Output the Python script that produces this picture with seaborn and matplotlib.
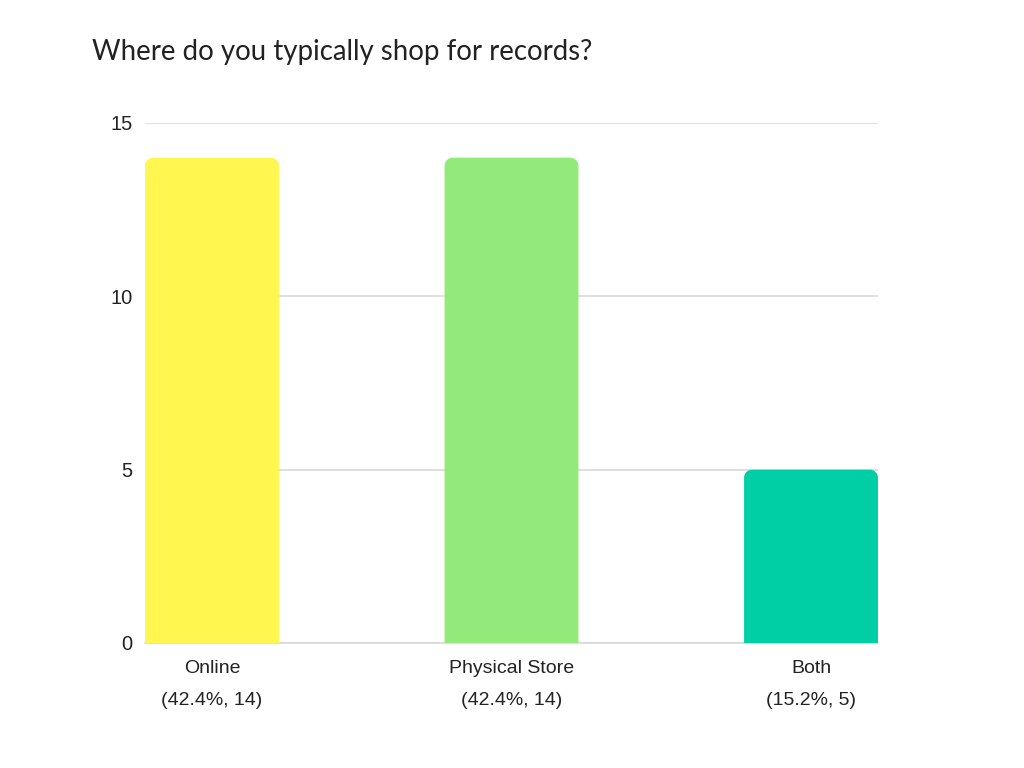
import seaborn as sns
import matplotlib.pyplot as plt
import pandas as pd
from matplotlib.path import Path
from matplotlib.patches import PathPatch

### data
answers = ["Online", "Physical Store", "Both"]
counts = [14, 14, 5]
shares = ["42.4%", "42.4%", "15.2%"]
colors = ["#FFF650", "#93E97A", "#00CFA5"]

df = pd.DataFrame({"answer": answers, "count": counts})

sns.set_style("white")
plt.rcParams["font.family"] = ["Liberation Sans", "DejaVu Sans"]

fig = plt.figure(figsize=(10.24, 7.68), dpi=100)
ax = fig.add_axes([145/1024, 1 - 643/768, 733/1024, 520/768])

sns.barplot(x="answer", y="count", hue="answer", data=df, palette=colors,
            width=0.447, legend=False, ax=ax, saturation=1, zorder=3)

### swap plain rectangles for ones with rounded top corners
rx, ry = 0.027, 0.23
for p in list(ax.patches):
    x0, y0 = p.get_x(), p.get_y()
    w, h = p.get_width(), p.get_height()
    x1, y1 = x0 + w, y0 + h
    k = 0.55
    verts = [(x0, y0), (x0, y1 - ry),
             (x0, y1 - ry + k*ry), (x0 + rx - k*rx, y1), (x0 + rx, y1),
             (x1 - rx, y1),
             (x1 - rx + k*rx, y1), (x1, y1 - ry + k*ry), (x1, y1 - ry),
             (x1, y0), (x0, y0)]
    codes = [Path.MOVETO, Path.LINETO,
             Path.CURVE4, Path.CURVE4, Path.CURVE4,
             Path.LINETO,
             Path.CURVE4, Path.CURVE4, Path.CURVE4,
             Path.LINETO, Path.CLOSEPOLY]
    ax.add_patch(PathPatch(Path(verts, codes), facecolor=p.get_facecolor(),
                           edgecolor="none", zorder=3))
    p.remove()

ax.set_xlim(-0.2237, 2.2237)
ax.set_ylim(0, 15)
ax.set_yticks([0, 5, 10, 15])
ax.yaxis.grid(True, color="#d9d9d9", linewidth=1.2, zorder=0)
ax.xaxis.grid(False)
for s in ["top", "right", "left"]:
    ax.spines[s].set_visible(False)
ax.spines["bottom"].set_color("#d9d9d9")
ax.spines["bottom"].set_linewidth(1.2)

ax.set_xticks(range(len(answers)))
ax.set_xticklabels([f"{a}\n({s}, {c})" for a, s, c in zip(answers, shares, counts)],
                   fontsize=14, color="#222222", linespacing=2.15)
ax.tick_params(axis="y", labelsize=14.5, colors="#222222", length=0, pad=9)
ax.tick_params(axis="x", length=0, pad=12)
ax.set_xlabel("")
ax.set_ylabel("")

fig.text(92/1024, 1 - 52/768, "Where do you typically shop for records?",
         fontsize=19.9, family=["Lato", "DejaVu Sans"], color="#222222",
         va="center", ha="left")

fig.savefig("out.png", dpi=100, facecolor="white")
